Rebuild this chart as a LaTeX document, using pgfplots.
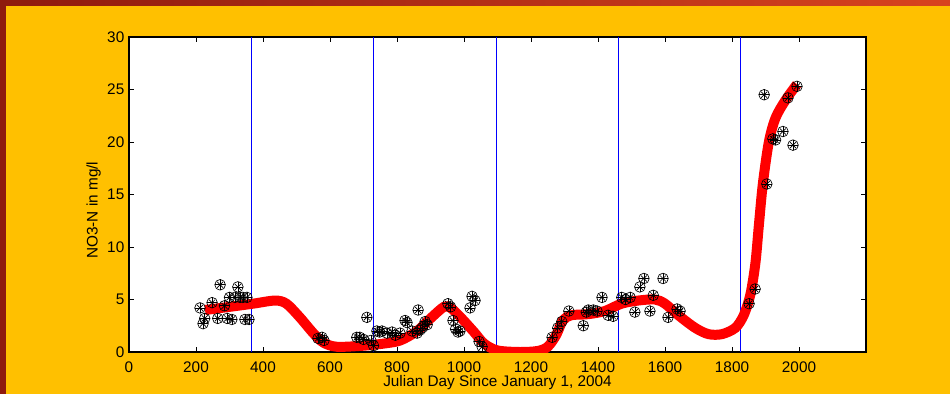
\documentclass[border=0pt]{standalone}
\usepackage{fontspec}
\setmainfont{Liberation Sans}
\usepackage{pgfplots}
\pgfplotsset{compat=1.18}
\definecolor{gold}{HTML}{FFC000}
\definecolor{maroonA}{HTML}{8E1A0E}
\definecolor{maroonB}{HTML}{D8431F}
\begin{document}
\begin{tikzpicture}
\useasboundingbox (0,0) rectangle (712.5pt,295.5pt);
\fill[gold] (0,0) rectangle (712.5pt,295.5pt);
\fill[maroonA] (0,0) rectangle (4.5pt,295.5pt);
\shade[left color=maroonA,right color=maroonB] (0,291.75pt) rectangle (712.5pt,295.5pt);
\begin{axis}[
  at={(96.75pt,31.5pt)}, anchor=south west,
  scale only axis, width=552.75pt, height=236.25pt,
  xmin=0, xmax=2200, ymin=0, ymax=30,
  axis background/.style={fill=white},
  xtick={0,200,...,2000}, ytick={0,5,...,30},
  tick align=inside, major tick length=4pt,
  tick style={black, line width=0.5pt},
  axis line style={black, line width=0.8pt},
  /pgf/number format/assume math mode=true,
  /pgf/number format/set thousands separator={},
  ticklabel style={font=\fontsize{11.5}{13}\selectfont},
  xlabel={Julian Day Since January 1, 2004},
  ylabel={NO3-N in mg/l},
  label style={font=\fontsize{11.5}{13}\selectfont},
  xlabel style={yshift=4.5pt},
  ylabel style={at={(ticklabel cs:0.45)}, yshift=-2pt},
  xticklabel style={yshift=-3.5pt},
]
% year boundaries
\addplot[blue, line width=0.6pt] coordinates {(366,0) (366,30)};
\addplot[blue, line width=0.6pt] coordinates {(731,0) (731,30)};
\addplot[blue, line width=0.6pt] coordinates {(1096,0) (1096,30)};
\addplot[blue, line width=0.6pt] coordinates {(1461,0) (1461,30)};
\addplot[blue, line width=0.6pt] coordinates {(1826,0) (1826,30)};
% observations
\pgfplotstableread{
x y
212 4.2
221 2.7
226 3.2
248 4.7
265 3.2
272 6.4
285 4.4
293 3.2
300 5.2
307 3.1
316 5.2
325 6.2
331 5.2
340 5.2
346 3.1
352 5.2
358 3.1
564 1.3
576 1.4
582 1.1
680 1.4
689 1.4
700 1.2
710 3.3
722 1.1
730 0.6
740 2.0
748 1.9
755 2.0
770 1.8
785 1.9
795 1.6
809 1.8
824 3.0
830 2.8
845 2.0
860 1.8
863 4.0
869 2.1
875 2.3
884 2.9
890 2.6
952 4.6
960 4.3
967 3.0
975 2.2
982 1.9
988 2.0
1018 4.2
1024 5.3
1033 4.9
1045 1.0
1054 0.5
1263 1.4
1280 2.3
1292 2.9
1313 3.9
1356 2.5
1365 3.8
1371 4.0
1386 4.0
1397 3.9
1412 5.2
1430 3.5
1445 3.4
1471 5.2
1482 5.0
1496 5.2
1510 3.8
1525 6.2
1537 7.0
1555 3.9
1565 5.4
1594 7.0
1609 3.3
1636 4.1
1645 3.9
1851 4.6
1869 6.0
1896 24.5
1904 16.0
1922 20.3
1930 20.2
1952 21.0
1967 24.2
1982 19.7
1994 25.3
}\obs
\addplot[only marks, mark=o, mark size=4pt, mark options={black, line width=0.5pt}] table {\obs};
\addplot[only marks, mark=+, mark size=4pt, mark options={black, line width=0.5pt}] table {\obs};
\addplot[only marks, mark=x, mark size=3.2pt, mark options={black, line width=0.5pt}] table {\obs};
% smooth fit
\addplot[red, line width=7.5pt, smooth, tension=0.5] coordinates {
(227,4.0) (300,4.3) (370,4.6) (436,4.9) (470,4.6) (510,3.3) (550,1.8) (580,0.9)
(620,0.5) (700,0.6) (760,0.8) (810,1.1) (860,2.0) (900,3.2) (940,4.3) (960,4.2)
(990,3.3) (1030,1.9) (1060,0.8) (1100,0.15) (1167,0) (1220,0.1) (1250,0.5)
(1275,1.6) (1295,3.0) (1320,3.5) (1370,3.6) (1420,3.9) (1470,4.6) (1520,4.9)
(1570,5.0) (1600,4.6) (1640,3.5) (1690,2.3) (1730,1.7) (1770,1.7) (1810,2.3)
(1835,3.5) (1855,5.5) (1870,8.5) (1880,12) (1892,16) (1910,20) (1930,22.3)
(1960,24) (1994,25.5)
};
\end{axis}
\end{tikzpicture}
\end{document}
